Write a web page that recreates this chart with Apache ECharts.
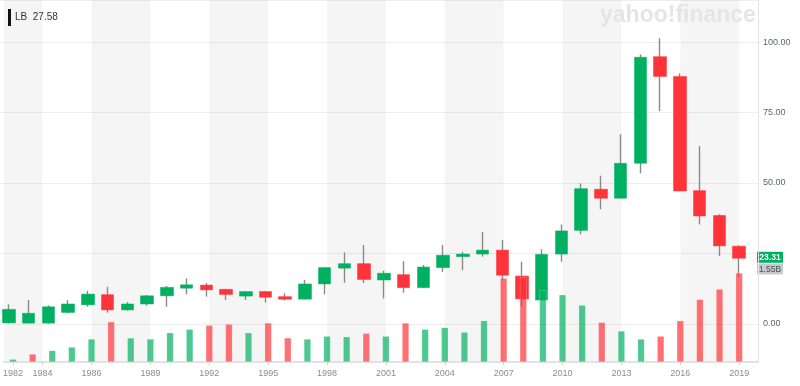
<!DOCTYPE html>
<html>
<head>
<meta charset="utf-8">
<script src="https://cdn.jsdelivr.net/npm/echarts@6/dist/echarts.min.js"></script>
<style>html,body{margin:0;padding:0;background:#fff}#c{width:800px;height:386px}</style>
</head>
<body>
<div id="c"></div>
<script>
const years = [1982,1983,1984,1985,1986,1987,1988,1989,1990,1991,1992,1993,1994,1995,1996,1997,1998,1999,2000,2001,2002,2003,2004,2005,2006,2007,2008,2009,2010,2011,2012,2013,2014,2015,2016,2017,2018,2019];
const opens  = [0.4,0.3,0.3,4.1,6.8,10.4,5.0,7.1,10.0,12.7,13.8,12.3,9.9,11.5,9.7,8.8,14.2,19.8,21.4,15.6,17.5,12.9,20.0,23.9,24.8,26.2,17.0,8.5,24.8,33.2,47.8,44.6,57.0,94.8,87.8,47.3,38.5,27.58];
const closes = [5.2,3.8,6.1,7.1,10.6,5.0,7.1,10.0,13.0,13.9,12.1,10.5,11.5,9.5,8.8,14.2,20.0,21.4,15.8,18.0,12.9,20.2,24.4,24.8,26.2,17.3,8.9,24.7,33.0,48.0,44.6,57.0,94.6,87.8,47.2,38.3,27.7,23.31];
const lows   = [0.2,0.2,0.2,3.8,6.1,4.0,4.7,6.5,6.1,10.5,9.7,8.5,8.5,7.6,8.3,8.7,10.5,14.6,14.6,9.1,11.1,12.8,18.5,19.1,23.9,15.6,6.4,8.4,22.1,31.8,40.7,44.5,53.4,75.5,47.1,35.3,24.1,16.8];
const highs  = [7.0,8.5,6.6,8.4,11.8,13.2,7.8,10.3,13.5,16.2,14.6,12.4,11.6,11.6,10.9,15.6,20.1,25.4,28.0,18.9,22.3,20.9,28.0,25.6,32.7,29.8,22.1,26.5,35.3,49.9,52.6,67.3,95.6,101.3,88.9,63.1,38.9,27.9];
const volumes = [0.05,0.14,0.20,0.26,0.40,0.70,0.42,0.40,0.51,0.57,0.64,0.66,0.51,0.68,0.42,0.40,0.45,0.44,0.50,0.45,0.68,0.57,0.60,0.52,0.72,1.46,1.48,1.25,1.17,0.99,0.69,0.54,0.40,0.45,0.72,1.09,1.27,1.55];
const volumeDir = ['u','d','u','u','u','d','u','u','u','u','d','d','u','d','d','u','u','u','d','u','d','u','u','u','u','d','d','u','u','u','d','u','u','d','d','d','d','d'];
const xTickValues = [1982,1983.5,1986,1989,1992,1995,1998,2001,2004,2007,2010,2013,2016,2019];
const xTickLabels = ['1982','1984','1986','1989','1992','1995','1998','2001','2004','2007','2010','2013','2016','2019'];
const bandStarts = [1981.5,1986,1992,1998,2004,2010,2016];
const bandEnds   = [1983.5,1989,1995,2001,2007,2013,2019];
const priceTicks = [0,25,50,75,100];
const ticker = 'LB';
const lastOpen = 27.58;
const lastClose = 23.31;
const lastVolume = 1.55;

const X_MIN = 1981.544, X_MAX = 2019.96;
const UP = '#00b061', DOWN = '#ff333a';
const FONT = 'Liberation Sans, Arial, sans-serif';

const wickData = years.map((y,i)=>[y, opens[i], closes[i], lows[i], highs[i]]);
const bodyData = years.map((y,i)=>[y, opens[i], closes[i], Math.min(opens[i],closes[i]), Math.max(opens[i],closes[i])]);
const volData = years.map((y,i)=>({value:[y, volumes[i]], itemStyle:{color: volumeDir[i]==='u' ? 'rgba(0,176,97,0.7)' : 'rgba(255,51,58,0.7)'}}));
const bands = bandStarts.map((s,i)=>[{xAxis:s},{xAxis:bandEnds[i]}]);

const chart = echarts.init(document.getElementById('c'), null, {renderer:'canvas'});
chart.setOption({
  animation:false,
  backgroundColor:'#fff',
  textStyle:{fontFamily:FONT},
  grid:[
    {left:0, right:42, top:0, bottom:62},
    {left:0, right:42, top:0, bottom:24}
  ],
  xAxis:[
    {type:'value', gridIndex:0, min:X_MIN, max:X_MAX, show:false},
    {type:'value', gridIndex:1, min:X_MIN, max:X_MAX,
      axisLine:{show:true, lineStyle:{color:'#e2e2e2', width:2}},
      axisTick:{show:true, customValues:xTickValues, length:3, lineStyle:{color:'#cfcfcf'}},
      splitLine:{show:false},
      axisLabel:{customValues:xTickValues, fontSize:9, color:'#8c8c8c', margin:7, fontFamily:FONT,
        formatter:(v)=>{const k=xTickValues.indexOf(v); return k>=0?xTickLabels[k]:'';}}
    }
  ],
  yAxis:[
    {type:'value', gridIndex:0, position:'right', min:0, max:114.9, interval:25,
      axisLine:{show:false}, axisTick:{show:false},
      splitLine:{show:true, lineStyle:{color:'#eeeeee', width:1}},
      axisLabel:{fontSize:9, color:'#5d646b', margin:5, fontFamily:FONT, showMaxLabel:false,
        formatter:(v)=> (priceTicks.indexOf(v)>=0 && v!==25) ? v.toFixed(2) : ''}
    },
    {type:'value', gridIndex:1, position:'right', min:0, max:6.3,
      axisLine:{show:true, lineStyle:{color:'#e2e2e2', width:1}},
      axisTick:{show:false}, axisLabel:{show:false}, splitLine:{show:false}
    }
  ],
  series:[
    {type:'candlestick', name:'wick', xAxisIndex:0, yAxisIndex:0, z:2, barWidth:1,
      itemStyle:{color:'#8a8a8a', color0:'#8a8a8a', borderColor:'#8a8a8a', borderColor0:'#8a8a8a', borderWidth:1.4},
      data:wickData},
    {type:'candlestick', name:'body', xAxisIndex:0, yAxisIndex:0, z:3, barWidth:13,
      itemStyle:{color:UP, color0:DOWN, borderColor:UP, borderColor0:DOWN, borderWidth:0.5},
      data:bodyData},
    {type:'bar', name:'volume', xAxisIndex:1, yAxisIndex:1, z:4, barWidth:7,
      itemStyle:{borderColor:'rgba(255,255,255,0.35)', borderWidth:0.6},
      data:volData,
      markArea:{silent:true, z:0, itemStyle:{color:'rgba(0,0,0,0.04)'}, data:bands}
    }
  ]
});

// price / volume tags placed through the chart's own scales
const tagX = chart.convertToPixel({xAxisIndex:1}, X_MAX) - 1;
const priceY = chart.convertToPixel({yAxisIndex:0}, lastClose);
const volY = chart.convertToPixel({yAxisIndex:1}, lastVolume);
function tag(y, text, bg, fg, bold){
  return {type:'group', x:tagX, y:y, z:100, children:[
    {type:'rect', shape:{x:0, y:-5.5, width:26, height:11}, style:{fill:bg}},
    {type:'text', x:13, y:0.5, style:{text:text, fill:fg, fontSize:8.5, fontWeight:bold?'bold':'normal', fontFamily:FONT, align:'center', verticalAlign:'middle'}}
  ]};
}
chart.setOption({
  graphic:[
    {type:'text', left:600, top:4, z:0, silent:true,
      style:{text:'yahoo!finance', fontSize:23, fontWeight:'bold', fontFamily:FONT, fill:'#e5e5e5'}},
    {type:'rect', left:8, top:9, z:10, shape:{width:3, height:17}, style:{fill:'#111'}},
    {type:'text', left:15, top:12, z:10, style:{text:ticker+'  '+lastOpen.toFixed(2), fontSize:10, fontFamily:FONT, fill:'#333'}},
    tag(priceY - 1, lastClose.toFixed(2), UP, '#fff', true),
    tag(volY - 4, lastVolume.toFixed(2)+'B', '#c6c9ce', '#4a4f55', false)
  ]
});
</script>
</body>
</html>
